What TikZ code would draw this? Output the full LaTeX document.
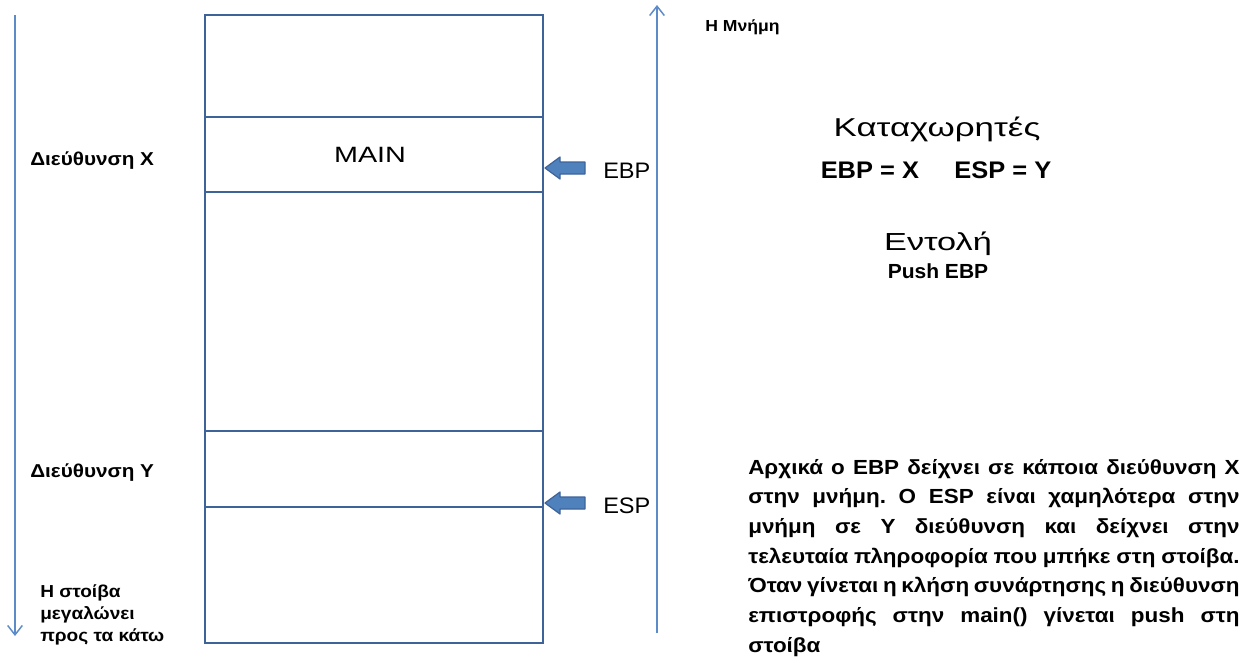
\documentclass[tikz,border=0pt]{standalone}
\usepackage{fontspec}
\setmainfont{Liberation Sans}
\usepackage{xcolor}
\usepackage{graphicx}
\usetikzlibrary{positioning,arrows.meta}

\definecolor{stackblue}{HTML}{3E6399}
\definecolor{arrowfill}{HTML}{4F81BD}
\definecolor{thinblue}{HTML}{5B8BC9}

% horizontally widened text
\newcommand{\wid}[2]{\scalebox{#1}[1]{#2}}
\newcommand{\fsz}[1]{\fontsize{#1}{1.2\dimexpr #1pt\relax}\selectfont}
% one justified line of the explanation
\newcommand{\jline}[1]{\hbox to \linewidth{#1}}

\tikzset{
  stackline/.style={draw=stackblue, line width=2.2pt},
  thinarrow/.style={thinblue, line width=1.1pt, -{Straight Barb[length=7pt, width=11pt, line width=1.1pt]}},
  blockarrow/.style={fill=arrowfill, draw=stackblue, line width=0.9pt, line join=round},
  txt/.style={inner sep=0pt, anchor=base},
  ltxt/.style={inner sep=0pt, anchor=base west},
}

\begin{document}
\begin{tikzpicture}[x=0.75pt, y=-0.75pt]
\useasboundingbox (0,0) rectangle (1250,662);

% Stack frame
\draw[stackline] (205,15) rectangle (543,643);
\foreach \yy in {117,192,431,507}
  \draw[stackline] (205,\yy) -- (543,\yy);
\node[txt] (main) at (370,162) {\wid{1.3}{\fsz{16.6}MAIN}};

% Direction arrows
\coordinate (growtop) at (15,15);
\coordinate (growbot) at (15,636);
\coordinate (memlow) at (657,633);
\coordinate (memhigh) at (657,5);
\draw[thinarrow] (growtop) -- (growbot);
\draw[thinarrow] (memlow) -- (memhigh);

% Pointer labels and block arrows
\node[ltxt] (ebp) at (603,178) {\wid{1.05}{\fsz{16.8}EBP}};
\node[ltxt] (esp) at (603,513) {\wid{1.05}{\fsz{16.8}ESP}};
\draw[blockarrow] (545,168) -- (560,157) -- (560,162) -- (585,162) -- (585,174) -- (560,174) -- (560,179) -- cycle;
\draw[blockarrow] (545,503) -- (560,492) -- (560,497) -- (585,497) -- (585,509) -- (560,509) -- (560,514) -- cycle;

% Left labels
\node[ltxt] (addrx) at (30,165) {\wid{1.11}{\bfseries\fsz{14}Διεύθυνση X}};
\node[ltxt] (addry) at (30,477) {\wid{1.11}{\bfseries\fsz{14}Διεύθυνση Y}};
\node[ltxt] (grows) at (40,597) {\wid{1.1}{\parbox[t]{4cm}{\raggedright\bfseries\fontsize{13}{16.5}\selectfont Η στοίβα\\μεγαλώνει\\προς τα κάτω}}};
\node[ltxt] (mem) at (705,31) {\wid{1.1}{\bfseries\fsz{12}Η Μνήμη}};

% Registers and instruction
\node[txt] (regs) at (937,136) {\wid{1.35}{\fsz{19.4}Καταχωρητές}};
\node[txt] (regval) at (936,178) {\wid{1.06}{\bfseries\fsz{18}EBP = X\hspace{25pt}ESP = Y}};
\node[txt] (instr) at (938,250) {\wid{1.39}{\fsz{18.5}Εντολή}};
\node[txt] (push) at (938,278) {\wid{1.03}{\bfseries\fsz{15.3}Push EBP}};

% Explanation
\node[ltxt] (expl) at (748,474) {\wid{1.1}{\parbox[t]{335pt}{\bfseries\fontsize{15.3}{22.25}\selectfont\frenchspacing
   \jline{Αρχικά ο EBP δείχνει σε κάποια διεύθυνση X}
   \jline{στην μνήμη. Ο ESP είναι χαμηλότερα στην}
   \jline{μνήμη σε Y διεύθυνση και δείχνει στην}
   \jline{τελευταία πληροφορία που μπήκε στη στοίβα.}
   \jline{Όταν γίνεται η κλήση συνάρτησης η διεύθυνση}
   \jline{επιστροφής στην main() γίνεται push στη}
   \hbox{στοίβα}}}};

\end{tikzpicture}
\end{document}
